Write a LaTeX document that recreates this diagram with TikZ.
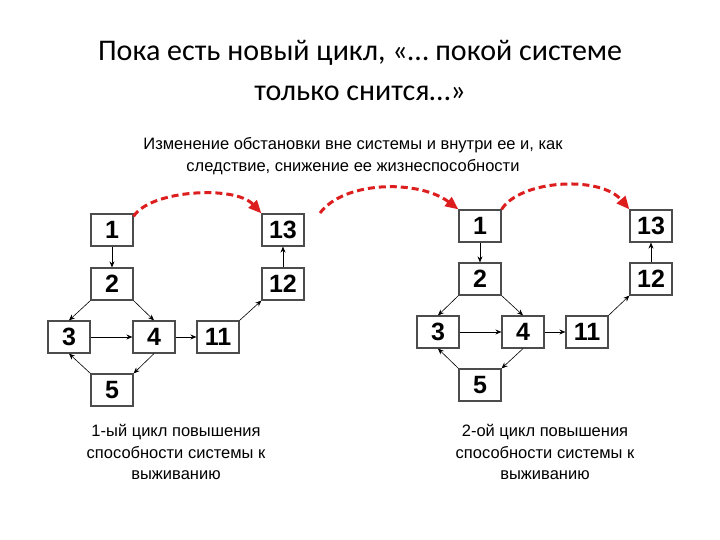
\documentclass[tikz,border=0pt]{standalone}
\usepackage{fontspec}
\setmainfont{Liberation Sans}
\newfontfamily\titlefont{Carlito}
\usetikzlibrary{arrows.meta}
\begin{document}
\begin{tikzpicture}[x=1pt,y=-1pt,
  bx/.style={draw=black!70,line width=1.2pt,minimum width=42pt,minimum height=32pt,inner sep=0pt,font=\fontsize{25}{25}\selectfont\bfseries},
  ar/.style={-{Stealth[length=6pt,width=5pt]},line width=0.6pt},
  red/.style={draw={rgb,255:red,220;green,30;blue,30},dashed,line width=3pt,dash pattern=on 7pt off 4pt,-{Triangle[length=13pt,width=11pt,fill={rgb,255:red,230;green,20;blue,20}]}},
  txt/.style={align=center,font=\fontsize{16.5}{21.5}\selectfont}]
\useasboundingbox (0,0) rectangle (720,540);
\node[font=\titlefont\fontsize{30}{40}\selectfont,align=center] (t) at (360,70) {Пока есть новый цикл, «… покой системе\\только снится…»};
\node[txt] (s) at (353,156) {Изменение обстановки вне системы и внутри ее и, как\\следствие, снижение ее жизнеспособности};
% left
\node[bx] (a1) at (112,230) {1};
\node[bx] (a2) at (112,284) {2};
\node[bx] (a3) at (69,337) {3};
\node[bx] (a4) at (154,337) {4};
\node[bx] (a11) at (218,337) {11};
\node[bx] (a12) at (283,284) {12};
\node[bx] (a13) at (283,230) {13};
\node[bx] (a5) at (112,390) {5};
\draw[ar] (a1) -- (a2);
\draw[ar] (a2.south west) -- (a3.north);
\draw[ar] (a2.south east) -- (a4.north);
\draw[ar] (a3) -- (a4);
\draw[ar] (a4.south) -- (a5.north east);
\draw[ar] (a5.north west) -- (a3.south);
\draw[ar] (a4) -- (a11);
\draw[ar] (a11.north east) -- (a12.south west);
\draw[ar] (a12) -- (a13);
\draw[red] (a1.north east) ++(0,3) .. controls (150,190) and (235,185) .. (a13.north west);
\coordinate (m1) at (320,213);
\node[txt] (c1) at (176,452) {1-ый цикл повышения\\способности системы к\\выживанию};
% right
\node[bx] (b1) at (480,226) {1};
\node[bx] (b2) at (480,279) {2};
\node[bx] (b3) at (438,332) {3};
\node[bx] (b4) at (523,332) {4};
\node[bx] (b11) at (587,332) {11};
\node[bx] (b12) at (651,279) {12};
\node[bx] (b13) at (651,226) {13};
\node[bx] (b5) at (480,385) {5};
\draw[ar] (b1) -- (b2);
\draw[ar] (b2.south west) -- (b3.north);
\draw[ar] (b2.south east) -- (b4.north);
\draw[ar] (b3) -- (b4);
\draw[ar] (b4.south) -- (b5.north east);
\draw[ar] (b5.north west) -- (b3.south);
\draw[ar] (b4) -- (b11);
\draw[ar] (b11.north east) -- (b12.south west);
\draw[ar] (b12) -- (b13);
\draw[red] (m1) .. controls (345,180) and (420,180) .. (b1.north west);
\draw[red] (b1.north east) .. controls (520,180) and (600,175) .. (b13.north west);
\node[txt] (c2) at (545,452) {2-ой цикл повышения\\способности системы к\\выживанию};
\end{tikzpicture}
\end{document}
